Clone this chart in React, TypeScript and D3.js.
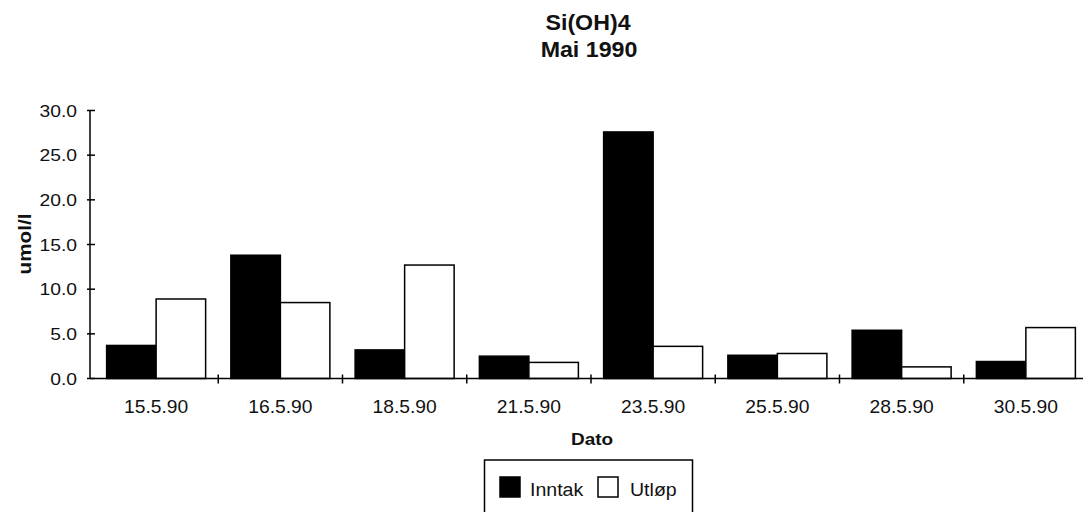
import React from "react";
import * as d3 from "d3";

const categories = ["15.5.90", "16.5.90", "18.5.90", "21.5.90", "23.5.90", "25.5.90", "28.5.90", "30.5.90"];
const seriesNames = ["Inntak", "Utløp"];
const inntak = [3.7, 13.8, 3.2, 2.5, 27.6, 2.6, 5.4, 1.9];
const utlop = [8.9, 8.5, 12.7, 1.8, 3.6, 2.8, 1.3, 5.7];
const yTicks = [0, 5, 10, 15, 20, 25, 30];
const titleLines = ["Si(OH)4", "Mai 1990"];
const yLabel = "umol/l";
const xLabel = "Dato";

const FONT = "'Liberation Sans', Arial, Helvetica, sans-serif";

function T({ x, y, size, sx = 1, anchor = "start", bold = false, rotate = 0, children }: any) {
  return (
    <text
      transform={`translate(${x},${y}) rotate(${rotate}) scale(${sx},1)`}
      fontSize={size}
      fontFamily={FONT}
      fontWeight={bold ? "bold" : "normal"}
      textAnchor={anchor}
      fill="#111"
    >
      {children}
    </text>
  );
}

export default function App() {
  const W = 1083;
  const H = 512;
  const axisX = 90;
  const step = 124.25;
  const x0 = 94;
  const x = d3.scaleBand<string>().domain(categories).range([x0, x0 + step * categories.length]).padding(0);
  const inner = d3.scaleBand<string>().domain(seriesNames).range([0, x.bandwidth()]).paddingInner(0).paddingOuter(0.255);
  const y = d3.scaleLinear().domain([0, 30]).range([378.5, 110.5]);
  const series = [inntak, utlop];
  const fills = ["#000", "#fff"];

  return (
    <svg width={W} height={H} style={{ position: "absolute", left: 0, top: 0, background: "#fff" }}>
      <rect x={0} y={0} width={W} height={H} fill="#fff" />
      {/* title */}
      <T x={588} y={30} size={21.5} sx={1.08} anchor="middle" bold>{titleLines[0]}</T>
      <T x={589} y={57} size={21.5} sx={1.08} anchor="middle" bold>{titleLines[1]}</T>

      {/* bars */}
      {categories.map((c, i) =>
        series.map((s, j) => {
          const bx = (x(c) as number) + (inner(seriesNames[j]) as number);
          const top = y(s[i]);
          return (
            <rect
              key={c + j}
              x={bx}
              y={top}
              width={inner.bandwidth()}
              height={y(0) - top}
              fill={fills[j]}
              stroke="#000"
              strokeWidth={1.5}
            />
          );
        })
      )}

      {/* y axis */}
      <line x1={axisX} x2={axisX} y1={y(0)} y2={y(30)} stroke="#000" strokeWidth={1.5} />
      {yTicks.map((t) => (
        <g key={t}>
          <line x1={axisX - 3} x2={axisX + 5} y1={y(t)} y2={y(t)} stroke="#000" strokeWidth={1.5} />
          <T x={77} y={y(t) + 6} size={16.5} sx={1.17} anchor="end">{t.toFixed(1)}</T>
        </g>
      ))}
      <T x={31} y={244} size={18} sx={1.15} anchor="middle" bold rotate={-90}>{yLabel}</T>

      {/* x axis */}
      <line x1={axisX} x2={W} y1={y(0)} y2={y(0)} stroke="#000" strokeWidth={1.5} />
      {categories.map((c, i) =>
        i === 0 ? null : (
          <line key={c} x1={x(c) as number} x2={x(c) as number} y1={y(0) - 4} y2={y(0) + 5} stroke="#000" strokeWidth={1.5} />
        )
      )}
      {categories.map((c) => (
        <T key={c} x={(x(c) as number) + x.bandwidth() / 2} y={413} size={17.5} sx={1.1} anchor="middle">{c}</T>
      ))}
      <T x={592} y={445} size={16.5} sx={1.15} anchor="middle" bold>{xLabel}</T>

      {/* legend */}
      <rect x={484.5} y={460} width={208} height={70} fill="#fff" stroke="#000" strokeWidth={1.5} />
      <rect x={500} y={477} width={20} height={20} fill="#000" stroke="#000" strokeWidth={1.5} />
      <T x={530} y={495.5} size={19} sx={1.03}>{seriesNames[0]}</T>
      <rect x={598} y={477} width={20} height={20} fill="#fff" stroke="#000" strokeWidth={1.5} />
      <T x={630} y={495.5} size={19} sx={1.03}>{seriesNames[1]}</T>
    </svg>
  );
}
